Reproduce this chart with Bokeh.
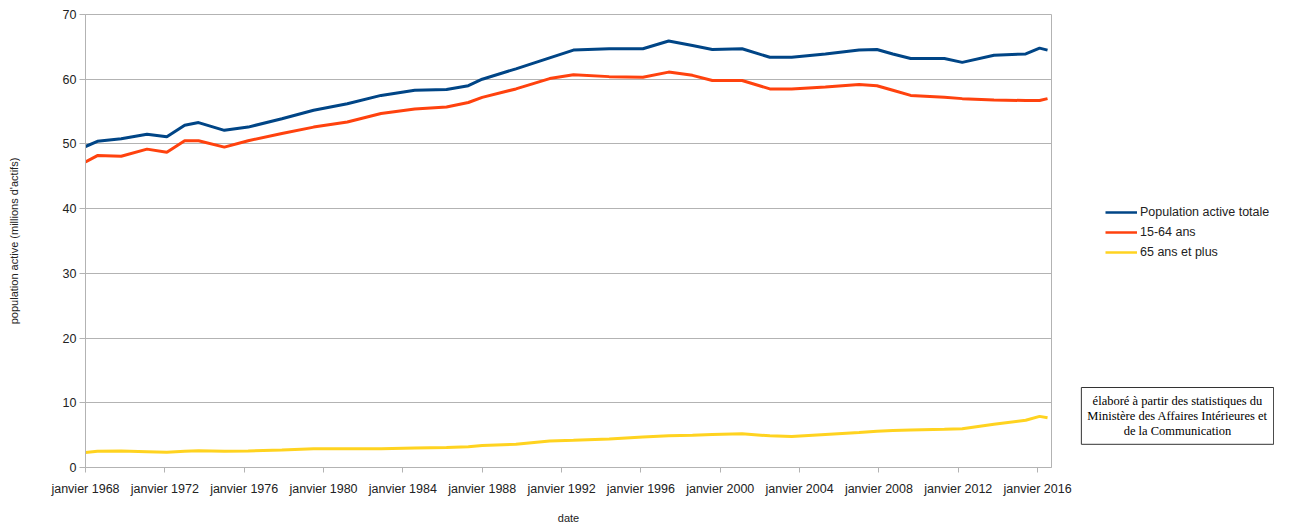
from bokeh.plotting import figure
from bokeh.layouts import row
from bokeh.models import FixedTicker, Legend, LegendItem, Label, Range1d
from bokeh.embed import file_html
from bokeh.resources import INLINE

# ---- data ----
dates = [1968.0, 1968.6, 1969.8, 1971.1, 1972.1, 1973.0, 1973.7, 1975.0, 1976.2, 1977.9,
         1979.5, 1981.2, 1982.9, 1984.6, 1986.2, 1987.3, 1988.0, 1989.7, 1991.4, 1992.6,
         1994.4, 1996.1, 1997.4, 1998.6, 1999.6, 2001.1, 2002.5, 2003.6, 2005.3, 2007.0,
         2007.9, 2008.7, 2009.6, 2011.3, 2012.2, 2013.8, 2015.4, 2016.1, 2016.5]
total = [49.6, 50.4, 50.8, 51.5, 51.1, 52.9, 53.3, 52.1, 52.6, 53.9,
         55.2, 56.2, 57.5, 58.3, 58.4, 59.0, 60.0, 61.6, 63.3, 64.5,
         64.7, 64.7, 65.9, 65.2, 64.6, 64.7, 63.4, 63.4, 63.9, 64.5,
         64.6, 63.9, 63.2, 63.2, 62.6, 63.7, 63.9, 64.8, 64.5]
age_15_64 = [47.2, 48.2, 48.1, 49.2, 48.7, 50.5, 50.5, 49.5, 50.5, 51.6,
             52.6, 53.4, 54.7, 55.4, 55.7, 56.4, 57.2, 58.5, 60.1, 60.7,
             60.4, 60.3, 61.1, 60.6, 59.8, 59.8, 58.5, 58.5, 58.8, 59.2,
             59.0, 58.3, 57.5, 57.2, 57.0, 56.8, 56.7, 56.7, 57.0]
age_65_plus = [2.3, 2.5, 2.55, 2.45, 2.35, 2.5, 2.6, 2.5, 2.55, 2.7,
               2.9, 2.9, 2.9, 3.0, 3.1, 3.2, 3.4, 3.6, 4.1, 4.2,
               4.4, 4.7, 4.9, 5.0, 5.1, 5.2, 4.9, 4.8, 5.1, 5.4,
               5.6, 5.7, 5.8, 5.9, 6.0, 6.7, 7.3, 7.9, 7.7]
series_names = ["Population active totale", "15-64 ans", "65 ans et plus"]
tick_years = [1968, 1972, 1976, 1980, 1984, 1988, 1992, 1996, 2000, 2004, 2008, 2012, 2016]
tick_labels = ["janvier %d" % y for y in tick_years]
y_ticks = [0, 10, 20, 30, 40, 50, 60, 70]
note = "élaboré à partir des statistiques du\nMinistère des Affaires Intérieures et\nde la Communication"

colors = ["#004586", "#ff420e", "#ffd320"]
GRID = "#b3b3b3"
FONT = "Liberation Sans"
TXT = "#222222"

FW, FH = 966, 453
LEFT, TOP, RIGHT, BOTTOM = 85, 14, 22, 58
TOTAL_W = 1274

p = figure(frame_width=FW, frame_height=FH,
           min_border_left=LEFT, min_border_right=RIGHT, min_border_top=TOP, min_border_bottom=BOTTOM,
           x_range=Range1d(1968, 2016.7), y_range=Range1d(0, 70),
           output_backend="svg", toolbar_location=None)
p.background_fill_color = "white"
p.border_fill_color = "white"
p.outline_line_color = GRID
p.outline_line_width = 1

for ys, c in zip([total, age_15_64, age_65_plus], colors):
    p.line(dates, ys, line_color=c, line_width=3)

p.xaxis.ticker = FixedTicker(ticks=tick_years)
p.xaxis.major_label_overrides = {y: l for y, l in zip(tick_years, tick_labels)}
p.yaxis.ticker = FixedTicker(ticks=y_ticks)
for ax in (p.xaxis[0], p.yaxis[0]):
    ax.axis_line_color = GRID
    ax.major_tick_line_color = GRID
    ax.minor_tick_line_color = None
    ax.major_tick_in = 0
    ax.major_label_text_font = FONT
    ax.major_label_text_font_size = "12.5px"
    ax.major_label_text_color = TXT
    ax.axis_label_text_font = FONT
    ax.axis_label_text_font_size = "11px"
    ax.axis_label_text_font_style = "normal"
    ax.axis_label_text_color = TXT
p.xaxis.major_tick_out = 5
p.xaxis.major_label_standoff = 9
p.xaxis.axis_label = "date"
p.xaxis.axis_label_standoff = 13
p.yaxis.major_tick_out = 6
p.yaxis.major_label_standoff = 3
p.yaxis.axis_label = "population active (millions d'actifs)"
p.yaxis.axis_label_standoff = 40

p.xgrid.visible = False
p.ygrid.grid_line_color = GRID
p.ygrid.grid_line_width = 1

# side panel holding the legend and the source note; its frame lines up with the main frame
SW = TOTAL_W - (LEFT + FW + RIGHT)
S_LEFT = 4
side = figure(frame_width=SW - S_LEFT, frame_height=FH,
              min_border_left=S_LEFT, min_border_top=TOP, min_border_right=0, min_border_bottom=BOTTOM,
              x_range=Range1d(S_LEFT, SW), y_range=Range1d(TOP + FH, TOP),
              x_axis_location=None, y_axis_location=None,
              output_backend="svg", toolbar_location=None)
side.grid.visible = False
side.outline_line_color = None
side.background_fill_color = "white"
side.border_fill_color = "white"

keys = [side.line(x=[-20, -10], y=[-20, -20], line_color=c, line_width=2.5) for c in colors]
legend = Legend(items=[LegendItem(label=n, renderers=[k]) for n, k in zip(series_names, keys)],
                location=(32 - S_LEFT, TOP + FH - 262), margin=0, padding=0, spacing=0,
                glyph_width=32, glyph_height=20, label_height=20, label_standoff=3,
                label_text_font=FONT, label_text_font_size="12.5px", label_text_color=TXT,
                background_fill_alpha=0, border_line_alpha=0)
side.add_layout(legend)

lab = Label(x=104, y=387, text=note,
            text_align="center", text_baseline="top",
            text_font="Liberation Serif", text_font_size="12.5px", text_line_height=1.1,
            text_color="black", border_line_color="#333333", border_line_width=1,
            background_fill_color="white", padding=6)
side.add_layout(lab)

layout = row(p, side, spacing=0)
open("out.html", "w").write(file_html(layout, INLINE))
